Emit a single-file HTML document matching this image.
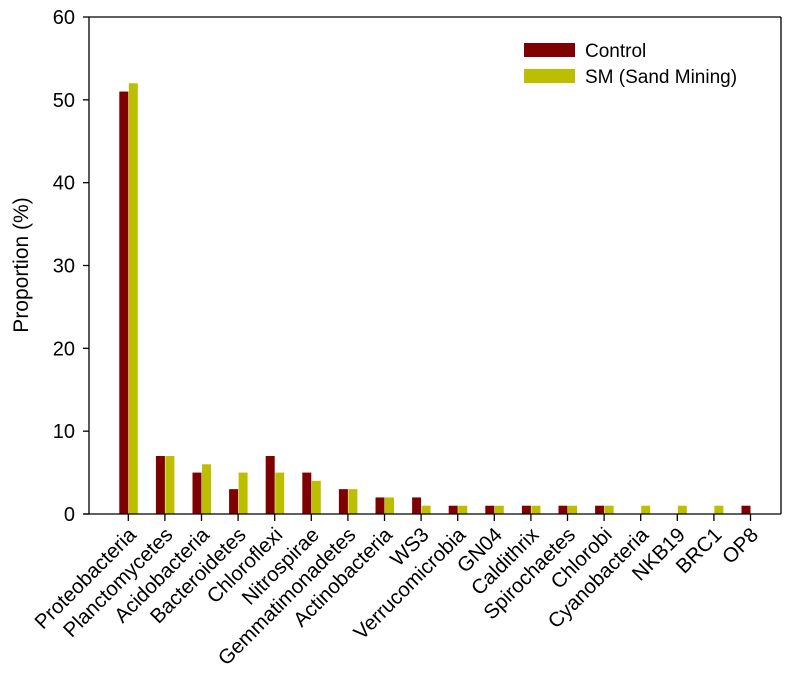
<!DOCTYPE html>
<html><head><meta charset="utf-8"><style>body{margin:0;background:#fff}svg{display:block;font-family:"Liberation Sans",Arial,sans-serif}</style></head>
<body>
<svg id="chart" width="795" height="680" viewBox="0 0 795 680"></svg>
<script>
const categories=["Proteobacteria","Planctomycetes","Acidobacteria","Bacteroidetes","Chloroflexi","Nitrospirae","Gemmatimonadetes","Actinobacteria","WS3","Verrucomicrobia","GN04","Caldithrix","Spirochaetes","Chlorobi","Cyanobacteria","NKB19","BRC1","OP8"];
const controlValues=[51,7,5,3,7,5,3,2,2,1,1,1,1,1,0,0,0,1];
const smValues=[52,7,6,5,5,4,3,2,1,1,1,1,1,1,1,1,1,0];
const yTicks=[0,10,20,30,40,50,60];
const seriesNames=["Control","SM (Sand Mining)"];

const NS="http://www.w3.org/2000/svg";
const svg=document.getElementById('chart');
const L=89,R=781,T=17,B=514;
const y=v=>B-(v/60)*(B-T);
const x0=128.3,step=36.6;
const x=i=>x0+i*step;
const BW=9;
function mk(t,a){const e=document.createElementNS(NS,t);for(const k in a)e.setAttribute(k,a[k]);svg.appendChild(e);return e;}

let e;
e=mk('line',{x1:L,y1:T,x2:R,y2:T,stroke:'#000','stroke-width':1.3});


e=mk('line',{x1:R,y1:T,x2:R,y2:B,stroke:'#000','stroke-width':1.3});



yTicks.forEach(v=>{
  let t=mk('line',{x1:L-6,y1:y(v),x2:L,y2:y(v),stroke:'#000','stroke-width':1.3});
  
  
  let l=mk('text',{x:L-14,y:y(v)+7,'text-anchor':'end','font-size':20});
  l.textContent=v;
  
  
});

categories.forEach((c,i)=>{
  let b1=mk('rect',{x:x(i)-BW,y:y(controlValues[i]),width:BW,height:B-y(controlValues[i]),fill:'#7f0000'});
  
  
  let b2=mk('rect',{x:x(i)+0.5,y:y(smValues[i]),width:BW,height:B-y(smValues[i]),fill:'#bcbf00'});
  
  
  let t=mk('line',{x1:x(i),y1:B,x2:x(i),y2:B+7,stroke:'#000','stroke-width':1.3});
  
  
  let ax=x(i)+9, ay=B+22;
  let l=mk('text',{x:ax,y:ay,'text-anchor':'end','font-size':20.5,transform:`rotate(-45 ${ax} ${ay})`});
  l.textContent=c;
  
  
});

e=mk('line',{x1:L,y1:T,x2:L,y2:B,stroke:'#000','stroke-width':1.3});


e=mk('line',{x1:L-5,y1:B,x2:R,y2:B,stroke:'#000','stroke-width':1.3});



e=mk('text',{x:28,y:265,'text-anchor':'middle','font-size':21,transform:'rotate(-90 28 265)'});
e.textContent='Proportion (%)';



const colors=['#7f0000','#bcbf00'];
seriesNames.forEach((n,i)=>{
  let s=mk('rect',{x:524,y:43+i*26,width:51,height:14,fill:colors[i]});
  
  
  let t=mk('text',{x:585,y:57+i*26,'font-size':19});
  t.textContent=n;
  
  
});
</script>
</body></html>
